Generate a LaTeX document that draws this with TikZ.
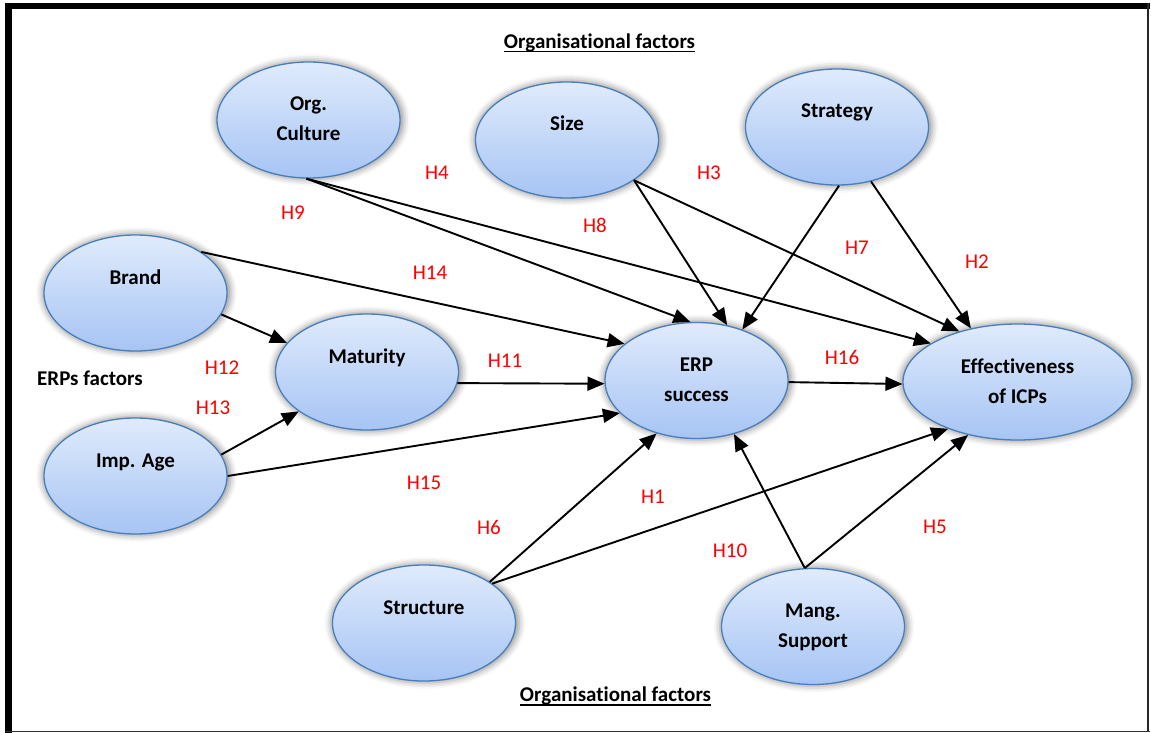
\documentclass[tikz,border=0pt]{standalone}
\usepackage{fontspec}
\setmainfont{Carlito}[Ligatures=NoCommon]
\usetikzlibrary{shapes.geometric,arrows.meta,shadows.blur}
\definecolor{ellborder}{HTML}{4A7EBB}
\definecolor{elltop}{HTML}{E0EBFC}
\definecolor{ellbot}{HTML}{A6C4F4}
\definecolor{hypred}{HTML}{FF0000}

\begin{document}
\begin{tikzpicture}[x=1pt,y=-1pt,
  factor/.style={ellipse, draw=ellborder, line width=1.3pt,
    top color=elltop, bottom color=ellbot,
    minimum width=183pt, minimum height=116pt, inner sep=0pt,
    align=center, font=\bfseries\fontsize{21}{30}\selectfont,
    blur shadow={shadow xshift=1pt, shadow yshift=0pt, shadow scale=1.03,
      shadow blur radius=6pt, shadow opacity=40}},
  hyp/.style={text=hypred, inner sep=0pt, font=\fontsize{21}{25}\selectfont},
  heading/.style={inner sep=0pt, anchor=base, font=\bfseries\fontsize{21}{25}\selectfont},
  link/.style={-{Triangle[length=17pt,width=14pt]}, line width=1.9pt},
  uline/.style={line width=1.4pt}]

\path[use as bounding box] (0,0) rectangle (1151,733);

% frame
\fill[black] (5,3.3) rectangle (1150,9.3);
\fill[black] (5,3.3) rectangle (11.5,733);
\fill[black!85] (1147,3.3) rectangle (1149.3,732);
\fill[black!80] (5,730.6) rectangle (1150,732);

% factors
\node[factor] (cult)   at (308.5,120) {\strut Org.\\\strut Culture};
\node[factor] (size)   at (567,140)   {\strut Size\\\strut};
\node[factor] (strat)  at (837,127)   {\strut Strategy\\\strut};
\node[factor] (brand)  at (135.5,293) {\strut Brand\\\strut};
\node[factor] (matur)  at (367,372)   {\strut Maturity\\\strut};
\node[factor] (erp)    at (696.5,380.5) {\strut ERP\\\strut success};
\node[factor, minimum width=229pt] (eff) at (1017.5,382) {\strut Effectiveness\\\strut of ICPs};
\node[factor] (imp)    at (135.5,476) {\strut Imp. Age\\\strut};
\node[factor] (struct) at (424,623)   {\strut Structure\\\strut};
\node[factor] (mang)   at (813,626.5) {\strut Mang.\\\strut Support};

% headings
\node[heading] (orgtop) at (599.5,48.3) {Organisational factors};
\draw[uline] ([yshift=-3.3pt]orgtop.base west) -- ([yshift=-3.3pt]orgtop.base east);
\node[heading] (orgbot) at (615.5,701.5) {Organisational factors};
\draw[uline] ([yshift=-3.3pt]orgbot.base west) -- ([yshift=-3.3pt]orgbot.base east);
\node[heading, anchor=base west] (erpf) at (37,385) {ERPs factors};

% hypotheses
\draw[link] (cult.-92) -- (erp.96);
\draw[link] (cult.-92) -- (eff.156);
\draw[link] (size.-31) -- (erp.61);
\draw[link] (size.-31) -- (eff.139);
\draw[link] (strat.-88) -- (erp.48);
\draw[link] (strat.-58) -- (eff.131);
\draw[link] (brand.32) -- (erp.153);
\draw[link] (brand.-14) -- (matur.160);
\draw[link] (imp.14) -- (matur.210);
\draw[link] (imp.0) -- (erp.203);
\draw[link] (matur.-7) -- (erp.182);
\draw[link] (erp.-1) -- (eff.181);
\draw[link] (struct.32) -- (erp.-127);
\draw[link] (struct.30) -- (eff.-146);
\draw[link] (mang.98) -- (erp.-55);
\draw[link] (mang.98) -- (eff.-133);

% hypothesis labels
\node[hyp] (h1)  at (653,497) {H1};
\node[hyp] (h2)  at (977,262) {H2};
\node[hyp] (h3)  at (709,173) {H3};
\node[hyp] (h4)  at (437,173) {H4};
\node[hyp] (h5)  at (935,527) {H5};
\node[hyp] (h6)  at (489,527) {H6};
\node[hyp] (h7)  at (857,248) {H7};
\node[hyp] (h8)  at (595,225) {H8};
\node[hyp] (h9)  at (293,213) {H9};
\node[hyp] (h10) at (730,551) {H10};
\node[hyp] (h11) at (505,361) {H11};
\node[hyp] (h12) at (222,368) {H12};
\node[hyp] (h13) at (213,408) {H13};
\node[hyp] (h14) at (430,273) {H14};
\node[hyp] (h15) at (424,483) {H15};
\node[hyp] (h16) at (842,357) {H16};
\end{tikzpicture}
\end{document}
